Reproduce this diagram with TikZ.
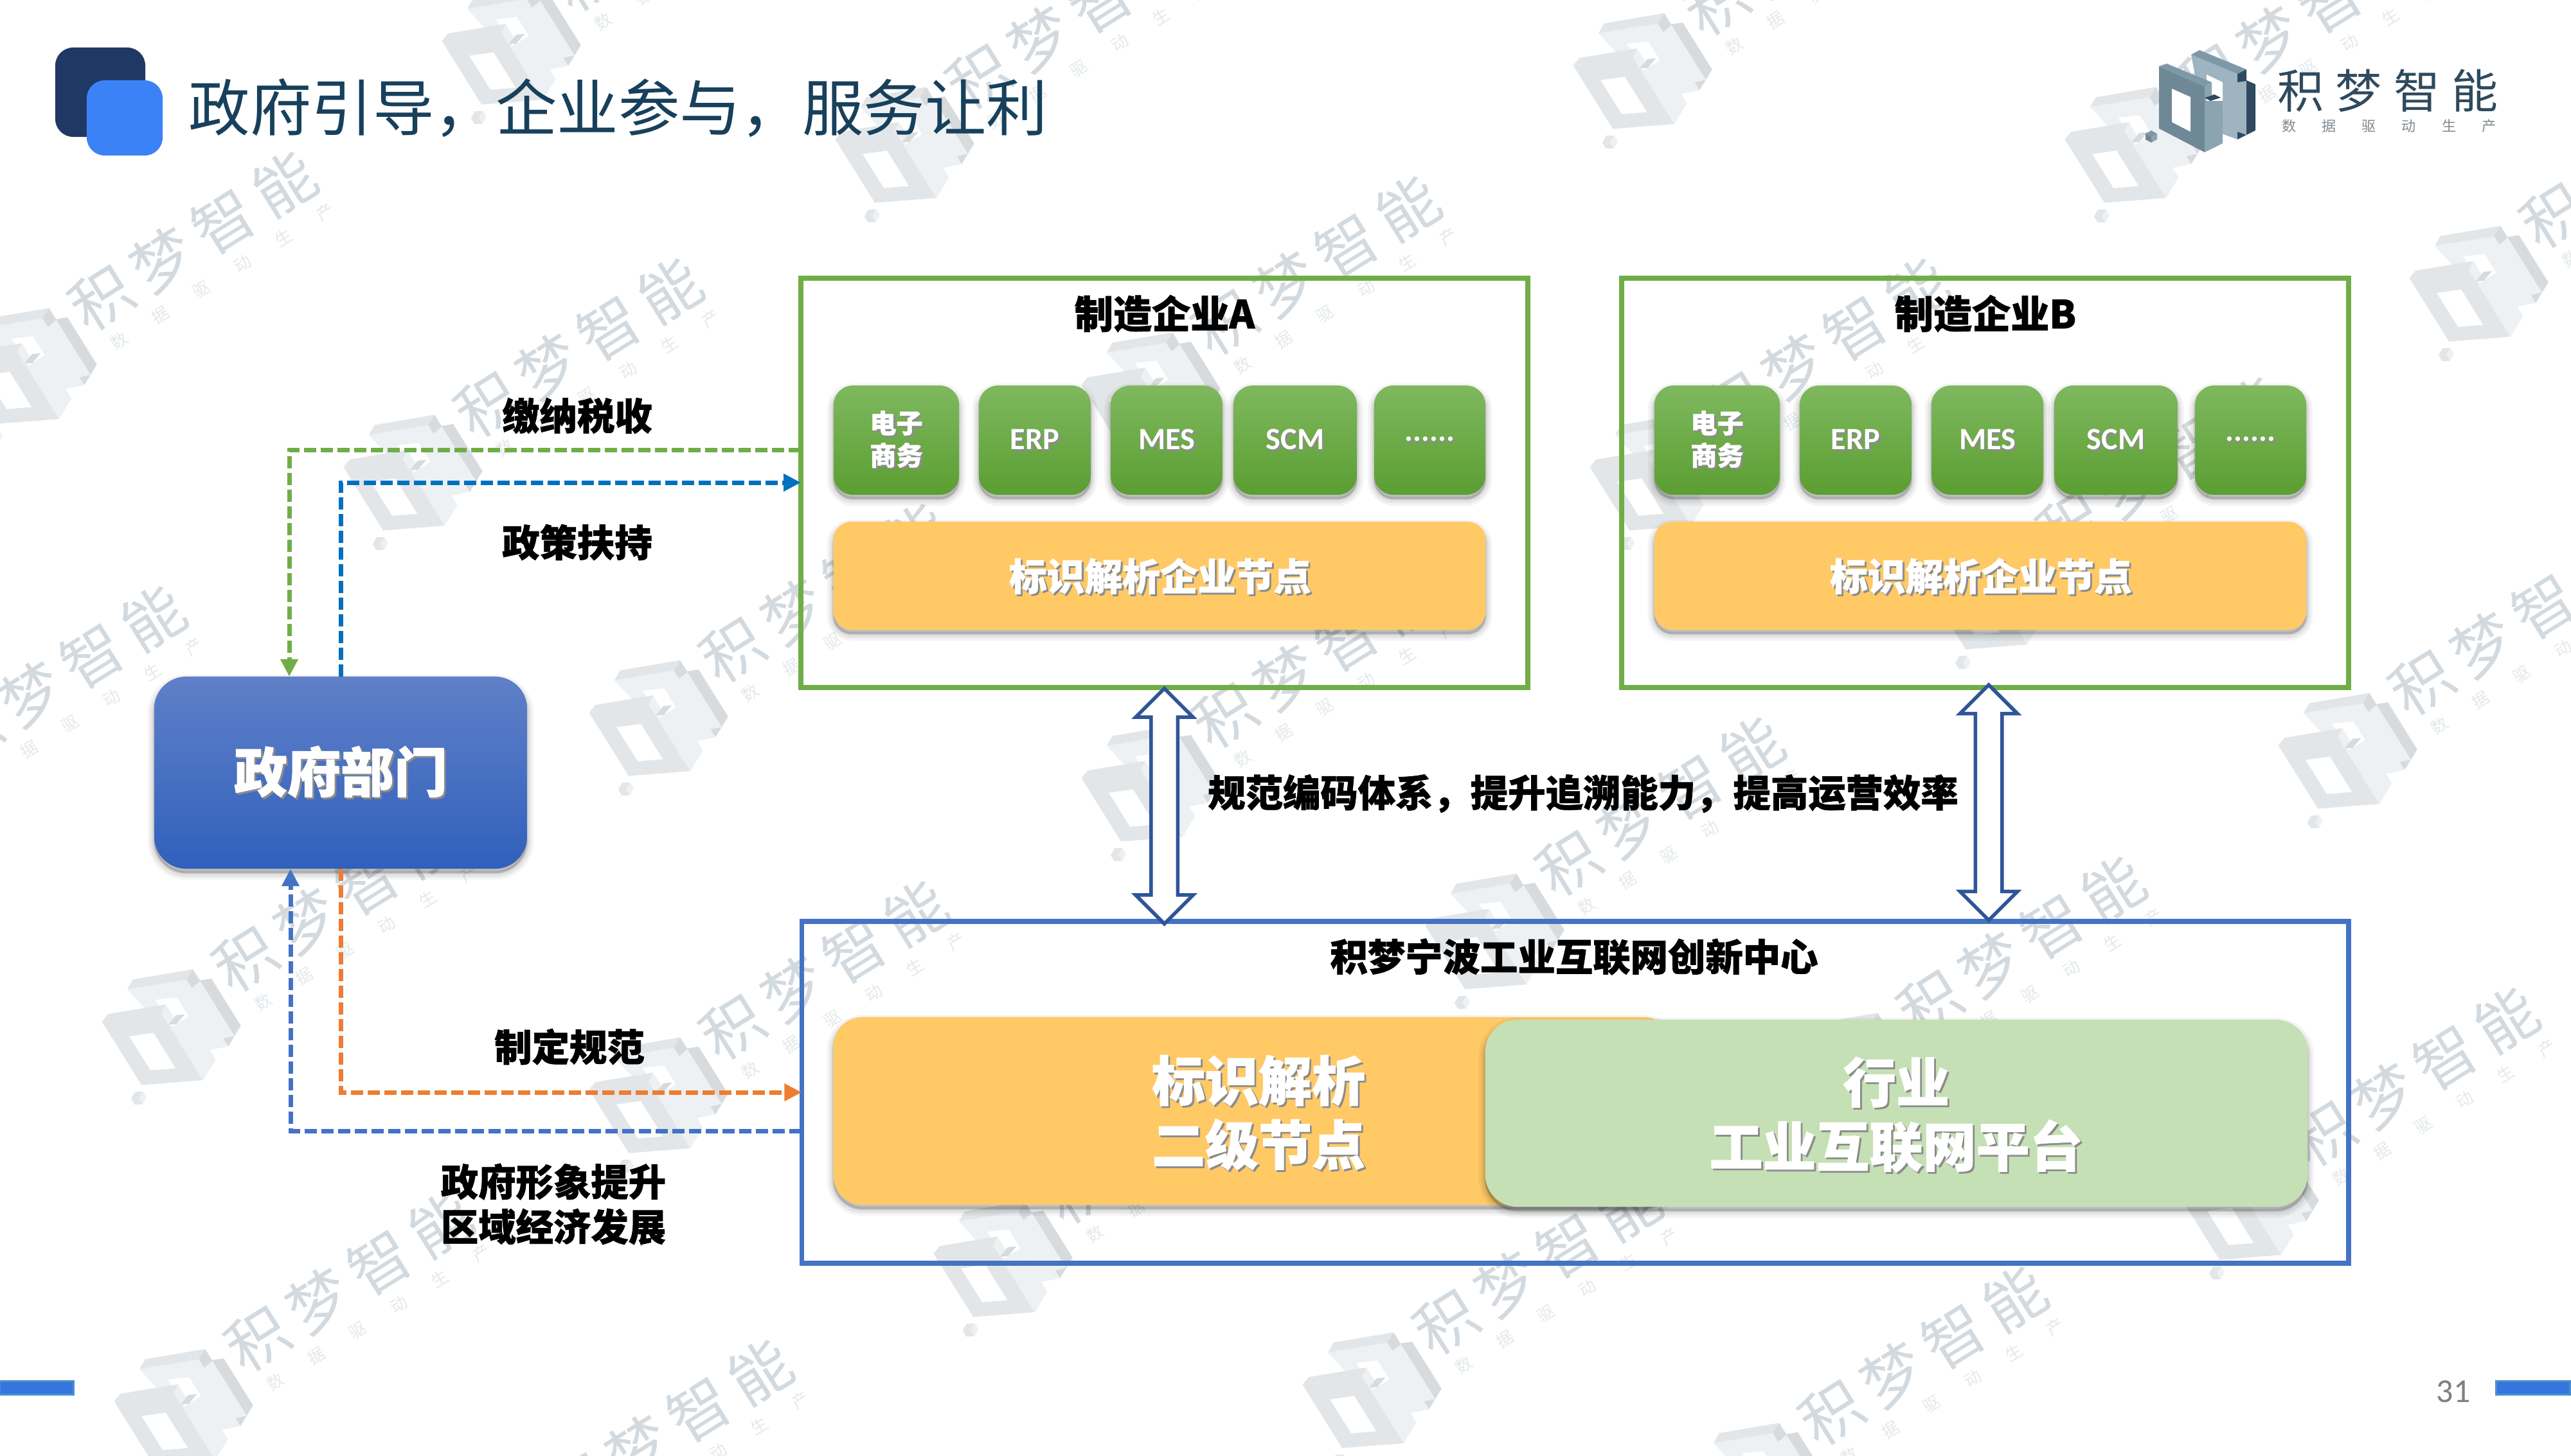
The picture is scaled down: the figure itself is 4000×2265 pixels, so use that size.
\documentclass[tikz,border=0pt]{standalone}
\usepackage{fontspec}
\setmainfont{Noto Sans CJK SC}[BoldFeatures={FakeBold=1.2}]
\newfontfamily\latinb{Carlito}
\newfontfamily\wmfont[LetterSpace=18]{Noto Sans CJK SC}
\newfontfamily\wmsubfont[LetterSpace=190]{Noto Sans CJK SC}
\newfontfamily\lgfont[LetterSpace=25]{Noto Sans CJK SC}
\newfontfamily\lgsubfont[LetterSpace=180]{Noto Sans CJK SC}
\usetikzlibrary{arrows.meta,shapes.arrows}
\definecolor{cgreen}{HTML}{70AD47}
\definecolor{cblue}{HTML}{4472C4}
\definecolor{cdblue}{HTML}{0070C0}
\definecolor{corange}{HTML}{ED7D31}
\definecolor{cyellow}{HTML}{FFC966}
\definecolor{cpale}{HTML}{C5E0B4}
\definecolor{cnavy}{HTML}{2F5597}
\definecolor{ctitle}{HTML}{17405C}
\definecolor{clogo}{HTML}{2F4A5E}
\definecolor{hdark}{HTML}{203864}
\definecolor{hblue}{HTML}{3B82F6}
\definecolor{barE}{HTML}{4A90D0}
\definecolor{lgA}{HTML}{9EB4C0}
\definecolor{lgB}{HTML}{7F98A8}
\definecolor{lgC}{HTML}{6F8896}
\definecolor{lgD}{HTML}{8CA3B0}
\definecolor{lgsub}{HTML}{7F8A92}
\definecolor{govT}{HTML}{6080C8}
\definecolor{govB}{HTML}{3060BC}
\definecolor{wmA}{HTML}{EEF1F3}
\definecolor{wmB}{HTML}{E3E6E8}
\definecolor{wmC}{HTML}{D7DBDE}
\definecolor{wmtext}{HTML}{D3DADF}
\definecolor{tileT}{HTML}{7FB85F}
\definecolor{tileB}{HTML}{5B9E32}
\newcommand\shd[1]{\leavevmode\makebox[0pt][l]{\kern.8pt\raisebox{-.8pt}{\textcolor{black!45}{#1}}}#1}
\newcommand\logopic[6]{%
  % #1 back face, #2 back top, #3 dark, #4 front face, #5 side, #6 hole
  \fill[#1] (-14,-73) -- (58,-43) -- (58,59) -- (7,40) -- cycle;
  \fill[#1] (58,-30) -- (72,-33) -- (72,52) -- (58,47) -- cycle;
  \fill[#6] (10,-42) -- (35,-30) -- (35,15) -- (10,5) -- cycle;
  \fill[#2] (-14,-73) -- (-1,-80) -- (72,-50) -- (58,-43) -- cycle;
  \fill[#3] (58,-43) -- (72,-50) -- (72,-32) -- (58,-30) -- cycle;
  \fill[#3] (72,-33) -- (86,-27) -- (86,45) -- (72,52) -- cycle;
  \fill[#3] (58,47) -- (72,52) -- (58,59) -- cycle;
  \fill[#4] (-64,-55) -- (7,-23) -- (7,79) -- (-64,42) -- cycle;
  \fill[#6] (-44,-20) -- (-15,-7) -- (-15,47) -- (-44,32) -- cycle;
  \fill[#5] (7,-23) -- (18,-30) -- (18,-10) -- (7,-6) -- cycle;
  \fill[#5] (7,-1) -- (35,-1) -- (35,65) -- (7,79) -- cycle;
  \fill[#2] (-64,-55) -- (-52,-59) -- (18,-30) -- (7,-23) -- cycle;
  \fill[#3] (7,-6) -- (22,-11) -- (32,-6) -- (16,-1) -- cycle;
  \fill[#2] (-85,50) -- (-76,45) -- (-67,50) -- (-76,55) -- cycle;
  \fill[#4] (-85,50) -- (-76,55) -- (-76,64) -- (-85,59) -- cycle;
  \fill[#5] (-76,55) -- (-67,50) -- (-67,59) -- (-76,64) -- cycle;
}
\newcommand\wm[3]{%
  \begin{scope}[shift={(#2,#3)},rotate=32]
    \begin{scope}[shift={(-4,0)},scale=1.2]
    \logopic{wmA}{wmB}{wmC}{wmB}{wmA}{white}
    \end{scope}
    \node[wmbig] (wm#1t) at (328,-30) {积梦智能};
    \node[wmsmall] (wm#1s) at (337,41) {数据驱动生产};
  \end{scope}}
\tikzset{
  softshadow/.style={
    preaction={draw=black,fill=black,opacity=.045,line width=.2cm,transform canvas={yshift=-.07cm}},
    preaction={draw=black,fill=black,opacity=.06,line width=.12cm,transform canvas={yshift=-.07cm}},
    preaction={draw=black,fill=black,opacity=.09,line width=.05cm,transform canvas={yshift=-.06cm}}},
  wmbig/.style={inner sep=0,rotate=32,text=wmtext,font=\wmfont\fontsize{27}{32}\selectfont},
  wmsmall/.style={inner sep=0,rotate=32,text=wmtext!60,font=\wmsubfont\fontsize{7.4}{9}\selectfont},
  frame/.style={draw,line width=.075cm,inner sep=0,outer sep=0},
  tile/.style={softshadow,rectangle,rounded corners=.3cm,inner sep=0,outer sep=0,minimum height=1.7cm,
    top color=tileT,bottom color=tileB,text=white,align=center},
  nodebar/.style={softshadow,rectangle,rounded corners=.28cm,inner sep=0,outer sep=0,fill=cyellow,text=white,align=center},
  tiletxt/.style={font=\bfseries\fontsize{11.7}{14.3}\selectfont},
  tilelat/.style={font=\latinb\bfseries\fontsize{13.7}{16}\selectfont},
  lbl/.style={inner sep=0,align=center,font=\bfseries\fontsize{16.6}{19.9}\selectfont},
  big/.style={inner sep=0,text=white,align=center,font=\bfseries\fontsize{23.6}{28.4}\selectfont},
  link/.style={line width=.07cm,dash pattern=on .19cm off .07cm},
  tipped/.style={-{Triangle[length=.27cm,width=.26cm]}},
  bothway/.style={shape=double arrow,shape border rotate=90,draw=cnavy,fill=white,line width=.055cm,
    minimum width=.84cm,double arrow head extend=.24cm,inner sep=.18cm,outer sep=0}
}
\newcommand\firm[3]{%
  \node[frame,draw=cgreen,minimum width=11.3cm,minimum height=6.37cm] (#1box) at (#2+1811.5,751.5) {};
  \node[lbl,font=\bfseries\fontsize{17.1}{20}\selectfont] (#1name) at (#2+1812,488) {#3};
  \node[tile,tiletxt,minimum width=1.95cm] (#1ec) at (#2+1394.5,685) {\shd{电子}\\\shd{商务}};
  \node[tile,tilelat,minimum width=1.74cm] (#1erp) at (#2+1610,685) {\shd{ERP}};
  \node[tile,tilelat,minimum width=1.74cm] (#1mes) at (#2+1815,685) {\shd{MES}};
  \node[tile,tilelat,minimum width=1.92cm] (#1scm) at (#2+2015,685) {\shd{SCM}};
  \node[tile,tilelat,minimum width=1.73cm] (#1etc) at (#2+2224.5,685) {\shd{......}};
  \node[nodebar,minimum width=10.14cm,minimum height=1.68cm] (#1bar) at (#2+1804,896) {};
  \node[inner sep=0,text=white,font=\bfseries\fontsize{16.7}{20}\selectfont] (#1bart) at (#2+1805,898) {\shd{标识解析企业节点}};
}
\begin{document}
\begin{tikzpicture}[x=.01cm,y=-.01cm]
\useasboundingbox (0,0) rectangle (4000,2265);
\fill[white] (0,0) rectangle (4000,2265);
\begin{scope}
\clip (0,0) rectangle (4000,2265);
\wm{a}{38}{574}
\wm{b}{638}{740}
\wm{c}{1020}{1122}
\wm{d}{1786}{612}
\wm{e}{791}{77}
\wm{f}{1403}{230}
\wm{g}{2551}{115}
\wm{h}{3316}{230}
\wm{i}{3852}{446}
\wm{j}{2577}{740}
\wm{k}{1786}{1224}
\wm{l}{2321}{1454}
\wm{m}{3648}{1173}
\wm{n}{262}{1603}
\wm{o}{1020}{1709}
\wm{p}{1556}{1964}
\wm{q}{2883}{1671}
\wm{r}{3495}{1875}
\wm{s}{2130}{2168}
\wm{t}{281}{2194}
\wm{u}{778}{2423}
\wm{v}{2730}{2309}
\wm{w}{-166}{1250}
\wm{x}{3100}{925}
\end{scope}
% header
\node[rectangle,rounded corners=.28cm,inner sep=0,outer sep=0,fill=hdark,minimum width=1.4cm,minimum height=1.39cm] (hA) at (156,143.5) {};
\node[rectangle,rounded corners=.28cm,inner sep=0,outer sep=0,fill=hblue,minimum width=1.18cm,minimum height=1.17cm] (hB) at (194,183.5) {};
\node[inner sep=0,text=ctitle,anchor=west,font=\fontsize{27.15}{32}\selectfont] (title) at (293,168) {政府引导，企业参与，服务让利};
% top-right logo
\begin{scope}[shift={(3423,158)}]
\logopic{lgA}{lgB}{clogo}{lgC}{lgD}{white}
\end{scope}
\node[inner sep=0,text=clogo,font=\lgfont\fontsize{20.5}{24}\selectfont] (lgname) at (3715,141) {积梦智能};
\node[inner sep=0,text=lgsub,font=\lgsubfont\fontsize{6.3}{8}\selectfont] (lgsubt) at (3717,196) {数据驱动生产};
% enterprises
\firm{a}{0}{制造企业A}
\firm{b}{1277}{制造企业B}
% platform
\node[frame,draw=cblue,minimum width=24.05cm,minimum height=5.32cm] (cbox) at (2450.5,1700) {};
\node[lbl] (cname) at (2449,1489) {积梦宁波工业互联网创新中心};
\node[nodebar,minimum width=13.05cm,minimum height=2.92cm,rounded corners=.45cm] (cnode) at (1949.5,1729) {};
\node[big] (cnodet) at (1958,1733) {\shd{标识解析}\\\shd{二级节点}};
\node[nodebar,fill=cpale,minimum width=12.79cm,minimum height=2.91cm,rounded corners=.5cm] (cplat) at (2950.5,1732.5) {};
\node[big] (cplatt) at (2950,1736) {\shd{行业}\\\shd{工业互联网平台}};
% gov
\node[softshadow,rectangle,rounded corners=.5cm,inner sep=0,outer sep=0,top color=govT,bottom color=govB,text=white,
  minimum width=5.8cm,minimum height=2.99cm,font=\bfseries\fontsize{23.6}{28}\selectfont] (gov) at (530,1202.5) {\shd{政府部门}};
% bends
\coordinate (taxbend) at (450,700);
\coordinate (polbend) at (530,751);
\coordinate (regbend) at (530,1700);
\coordinate (retbend) at (452,1760);
\draw[link,cgreen,tipped] (abox.west |- taxbend) -- (taxbend) -- (gov.north -| taxbend);
\draw[link,cdblue,tipped] (gov.north -| polbend) -- (polbend) -- (abox.west |- polbend);
\draw[link,corange,tipped] (gov.south -| regbend) -- (regbend) -- (cbox.west |- regbend);
\draw[link,cblue,tipped] (cbox.west |- retbend) -- (retbend) -- (gov.south -| retbend);
\node[lbl] (ltax) at (898,647) {缴纳税收};
\node[lbl] (lpol) at (898,844) {政策扶持};
\node[lbl] (lreg) at (886,1629) {制定规范};
\node[lbl] (lret) at (861,1874) {政府形象提升\\区域经济发展};
% double arrows
\node[bothway,minimum height=3.66cm] (arrA) at (1811.5,1254.5) {};
\node[bothway,minimum height=3.66cm] (arrB) at (3094,1249) {};
\node[lbl] (lmid) at (2463,1235) {规范编码体系，提升追溯能力，提高运营效率};
% footer
\node[rectangle,inner sep=0,outer sep=0,fill=hblue!90!black,draw=barE,line width=.03cm,minimum width=1.15cm,minimum height=.21cm] (barL) at (57,2160) {};
\node[rectangle,inner sep=0,outer sep=0,fill=hblue!90!black,draw=barE,line width=.03cm,minimum width=1.15cm,minimum height=.21cm] (barR) at (3941,2160) {};
\node[inner sep=0,text=black!50,font=\latinb\fontsize{14.8}{17}\selectfont] (pageno) at (3817,2166) {31};
\end{tikzpicture}
\end{document}
